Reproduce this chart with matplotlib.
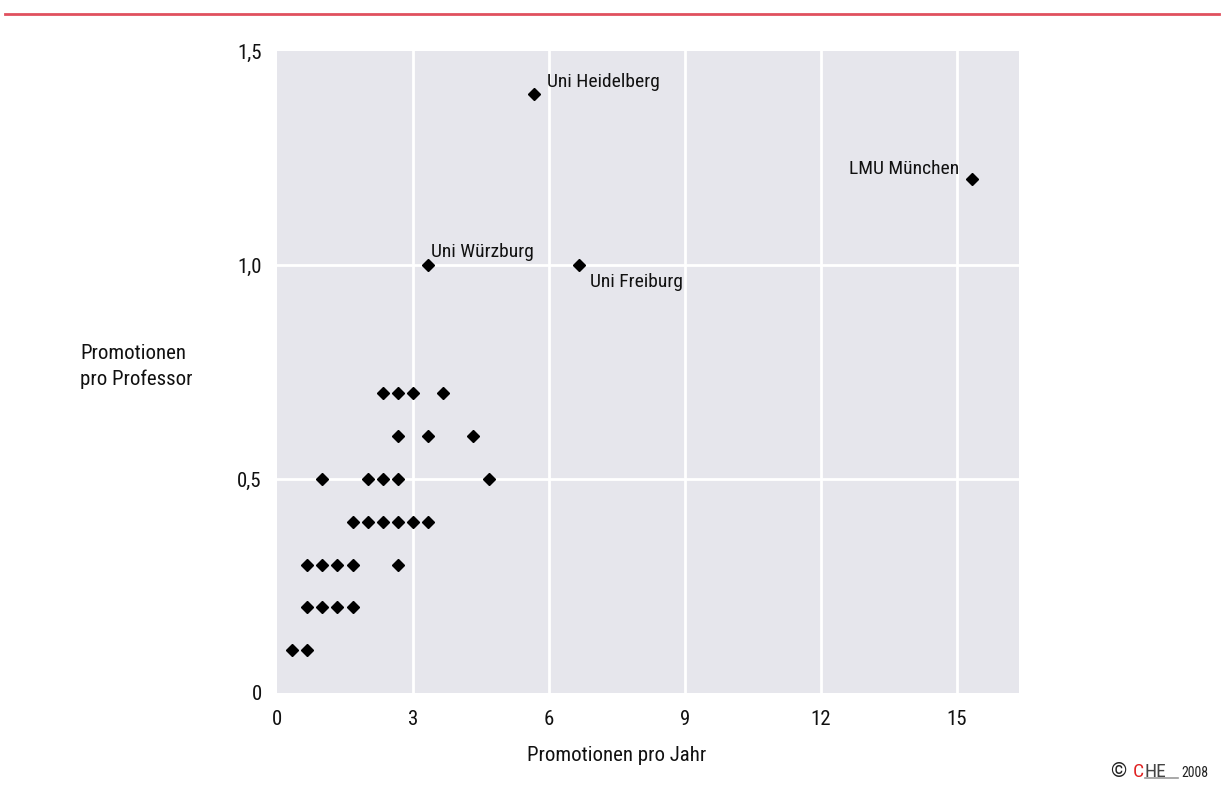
import matplotlib
matplotlib.use('Agg')
from matplotlib import pyplot as plt
from matplotlib import font_manager as fm
from matplotlib.lines import Line2D

# schmale Schrift waehlen, falls vorhanden
installiert = set(f.name for f in fm.fontManager.ttflist)
kandidaten = ['Roboto Condensed', 'Archivo Narrow', 'PT Sans Narrow',
              'Liberation Sans Narrow', 'Fira Sans Condensed', 'Barlow Semi Condensed']
schrift = [k for k in kandidaten if k in installiert][:1]
plt.rcParams['font.family'] = schrift + ['DejaVu Sans']

# Daten: Promotionen pro Jahr (x) und Promotionen pro Professor (y)
promotionen_jahr = [0.33, 0.67,
                    0.67, 1.0, 1.33, 1.67,
                    0.67, 1.0, 1.33, 1.67, 2.67,
                    1.67, 2.0, 2.33, 2.67, 3.0, 3.33,
                    1.0, 2.0, 2.33, 2.67, 4.67,
                    2.67, 3.33, 4.33,
                    2.33, 2.67, 3.0, 3.67]
promotionen_prof = [0.1, 0.1,
                    0.2, 0.2, 0.2, 0.2,
                    0.3, 0.3, 0.3, 0.3, 0.3,
                    0.4, 0.4, 0.4, 0.4, 0.4, 0.4,
                    0.5, 0.5, 0.5, 0.5, 0.5,
                    0.6, 0.6, 0.6,
                    0.7, 0.7, 0.7, 0.7]

# benannte Universitaeten
uni_namen = ["Uni Heidelberg", "Uni Würzburg", "Uni Freiburg", "LMU München"]
uni_jahr = [5.67, 3.33, 6.67, 15.33]
uni_prof = [1.4, 1.0, 1.0, 1.2]
label_offset = [(9, 5), (2, 6), (8, -16), (-9, 4)]
label_ha = ['left', 'left', 'left', 'right']

x_ticks = [0, 3, 6, 9, 12, 15]
y_ticks = [0, 0.5, 1.0, 1.5]
y_ticklabels = ["0", "0,5", "1,0", "1,5"]

fig = plt.figure(figsize=(12.24, 7.9), dpi=100)
fig.patch.set_facecolor('white')
ax = fig.add_axes([277/1224, 1 - 693/790, 742/1224, 642/790])
ax.set_facecolor('#e6e6ec')

# Diagramm
ax.plot(promotionen_jahr, promotionen_prof, linestyle='none', marker='D',
        markersize=6.5, color='black')
ax.plot(uni_jahr, uni_prof, linestyle='none', marker='D',
        markersize=6.5, color='black')

for name, x, y, off, ha in zip(uni_namen, uni_jahr, uni_prof, label_offset, label_ha):
    ax.annotate(name, (x, y), xytext=off, textcoords='offset points',
                ha=ha, va='baseline', fontsize=14, color='#111111')

ax.set_xlim(0, 16.37)
ax.set_ylim(0, 1.5)
ax.set_xticks(x_ticks)
ax.set_yticks(y_ticks)
ax.set_yticklabels(y_ticklabels)
ax.tick_params(length=0, labelsize=15, colors='#111111')
ax.tick_params(axis='y', pad=11)
ax.tick_params(axis='x', pad=12)

# Gitter
for s in ax.spines.values():
    s.set_visible(False)
for x in x_ticks[1:]:
    ax.axvline(x, color='white', linewidth=2, zorder=0.5)
for y in y_ticks[1:3]:
    ax.axhline(y, color='white', linewidth=2, zorder=0.5)

# Achsentitel
fig.text(617/1224, 1 - 761/790, 'Promotionen pro Jahr', fontsize=15,
         color='#111111', ha='center', va='baseline')
fig.text(80/1224, 1 - 359/790, 'Promotionen', fontsize=15,
         color='#111111', ha='left', va='baseline')
fig.text(80/1224, 1 - 385/790, 'pro Professor', fontsize=15,
         color='#111111', ha='left', va='baseline')

# rote Linie oben
fig.add_artist(Line2D([5/1224, 1219/1224], [1 - 14/790, 1 - 14/790],
                      color='#e0505e', linewidth=2))

# Copyright
fig.text(1110/1224, 1 - 777/790, '©', fontsize=15, color='#222222', va='baseline')
fig.text(1133/1224, 1 - 777/790, 'C', fontsize=14, color='#e02020', va='baseline')
fig.text(1144/1224, 1 - 777/790, 'HE', fontsize=14, color='#444444', va='baseline')
fig.add_artist(Line2D([1145/1224, 1178/1224], [1 - 778/790, 1 - 778/790],
                      color='#999999', linewidth=1.2))
fig.text(1181/1224, 1 - 777/790, '2008', fontsize=10, color='#222222', va='baseline')

plt.savefig('out.png', dpi=100)
